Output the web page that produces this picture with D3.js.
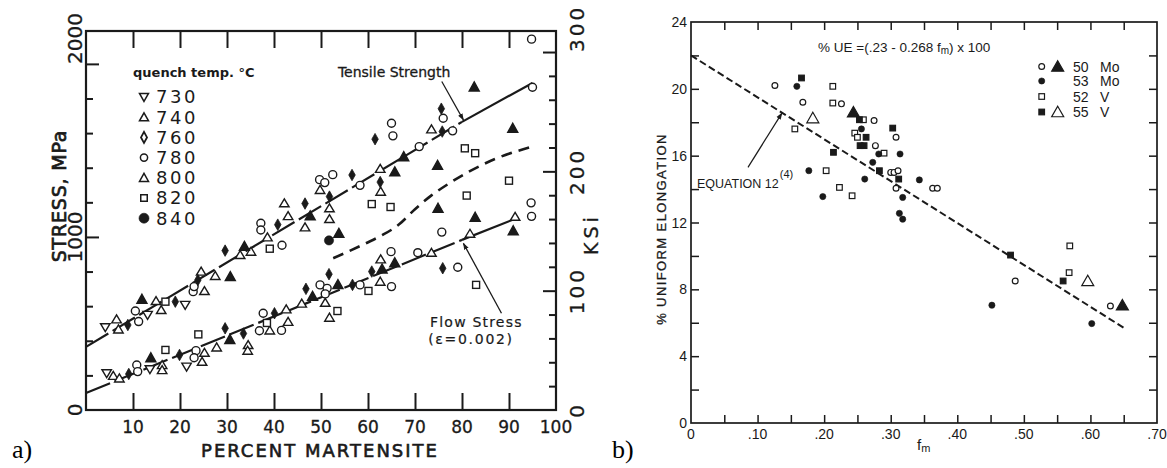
<!DOCTYPE html>
<html><head><meta charset="utf-8">
<script src="https://cdn.jsdelivr.net/npm/d3@7"></script>
<style>body{margin:0;background:#fff}svg{display:block}</style>
</head><body><svg id="c" width="1167" height="468"></svg>
<script>
// ---------------- DATA: panel a) ----------------
const pctTicks = [10,20,30,40,50,60,70,80,90];
const pctLabels = [10,20,30,40,50,60,70,80,90,100];
const mpaTicks = [200,400,600,800,1000,1200,1400,1600,1800,2000];
const mpaLabels = [0,1000,2000];
const ksiTicks = [20,40,60,80,100,120,140,160,180,200,220,240,260,280,300];
const ksiLabels = [0,100,200,300];
const legendTemps = ["730","740","760","780","800","820","840"];
const legendTempShapes = ["triDown","triUp","diamondOpen","circleOpen","triUp","squareOpen","circleFilled"];

// Tensile strength points [percent martensite, MPa]
const tsTriDown = [[4.1,478],[13.1,549],[21.1,607]];
const tsTriOpen = [[6.5,524],[6.9,466],[14.9,630],[16.0,578],[25.2,688],[24.5,800],[27.5,775],[32.8,896],[35.1,915],[38.6,998],[42.2,1195],[43.0,1121],[46.6,1056],[49.8,1272],[51.8,1166],[51.8,1104],[62.6,1394],[62.7,1262],[73.5,1622]];
const tsDiamond = [[8.9,491],[19.0,626],[23.8,751],[29.6,921],[40.8,1071],[46.6,1193],[51.8,1233],[56.6,1358],[61.5,1565],[62.6,1317],[75.6,1741],[75.8,1609]];
const tsCircleOpen = [[10.5,572],[11.2,511],[22.8,684],[23.0,713],[37.2,1079],[37.2,1040],[41.7,952],[49.7,1331],[50.8,1314],[52.5,1360],[58.3,1298],[65.0,1657],[65.3,1584],[70.9,1522],[76.0,1686],[78.0,1613],[95.0,1865],[94.8,2143]];
const tsTriFilled = [[11.9,640],[30.7,771],[33.7,946],[47.7,1122],[53.8,1021],[65.7,1376],[67.6,1464],[74.8,1414],[82.6,1867],[90.8,1628],[74.9,1166],[82.8,1114],[90.9,1036]];
const tsSquareOpen = [[16.9,626],[39.1,932],[60.8,1190],[64.8,1173],[80.6,1512],[82.8,1484],[90.0,1325],[81.0,1239]];
const tsCircleFilled = [[51.7,980]];

// Flow stress points
const fsTriDown = [[4.4,212],[13.6,235],[21.4,250]];
const fsTriOpen = [[5.8,198],[7.1,183],[16.2,260],[16.2,231],[25.2,331],[24.7,279],[27.8,362],[34.5,376],[34.4,343],[39.1,460],[42.6,582],[43.0,510],[45.9,615],[50.9,620],[51.8,534],[62.7,871],[62.6,742],[73.5,909],[81.7,1019],[91.3,1117]];
const fsDiamond = [[9.1,208],[19.9,318],[29.6,472],[33.5,442],[40.1,559],[46.8,700],[51.7,785],[56.7,723],[60.8,800],[75.9,819]];
const fsCircleOpen = [[10.8,260],[11.0,222],[23.4,343],[23.0,302],[36.9,458],[37.7,559],[41.6,460],[49.8,723],[51.3,703],[50.9,671],[58.3,723],[65.0,713],[64.9,915],[70.6,909],[79.1,825],[75.7,1028],[94.7,1197],[94.8,1119]];
const fsTriFilled = [[13.8,302],[30.6,408],[48.2,657],[53.6,725],[63.0,815],[65.7,851]];
const fsSquareOpen = [[16.9,347],[23.9,437],[38.5,503],[53.5,572],[60.1,688],[83.0,723]];

// Lines
const tensileLine = [[0,365],[80,1665]];
const tensileLineEnd = [[80,1665],[95,1890]];
const flowLine = [[0,98],[80,983]];
const flowLineEnd = [[80,983],[92,1112]];
const middleCurve = [[52.6,877],[56,918],[59.5,963],[63,1010],[66.5,1070],[70,1160],[73.5,1240],[77,1305],[81,1370],[87,1450],[95,1522]];
const tensileArrow = [[75.7,1898],[80.3,1676]];
const flowArrow = [[88.4,559],[80.3,963]];

// ---------------- DATA: panel b) ----------------
const fmTicks = [0.05,0.10,0.15,0.20,0.25,0.30,0.35,0.40,0.45,0.50,0.55,0.60,0.65];
const fmLabels = ["0",".10",".20",".30",".40",".50",".60",".70"];
const fmLabelValues = [0,0.1,0.2,0.3,0.4,0.5,0.6,0.7];
const ueTicks = [2,4,6,8,10,12,14,16,18,20,22];
const ueLabels = [0,4,8,12,16,20,24];

const mo50Circles = [[.126,20.2],[.168,19.2],[.226,19.1],[.275,18.1],[.277,16.6],[.308,17.1],[.300,15.0],[.305,15.0],[.311,15.1],[.308,14.05],[.363,14.05],[.370,14.05],[.487,8.5],[.630,7.0]];
const mo50Triangles = [[.244,18.6],[.648,7.05]];
const mo53Circles = [[.159,20.15],[.256,17.6],[.282,16.1],[.273,15.6],[.314,16.1],[.177,15.1],[.261,14.6],[.343,14.55],[.198,13.55],[.318,13.5],[.313,12.55],[.318,12.2],[.452,7.05],[.602,5.95]];
const v52Squares = [[.213,20.15],[.213,19.15],[.259,18.15],[.156,17.6],[.246,17.35],[.250,17.1],[.290,16.15],[.203,15.1],[.223,14.1],[.242,13.6],[.569,10.6],[.568,9.0]];
const v55Squares = [[.166,20.65],[.253,18.15],[.303,17.65],[.263,17.1],[.254,16.6],[.260,16.6],[.214,16.2],[.283,15.1],[.312,14.6],[.480,10.05],[.559,8.5]];
const v55Triangles = [[.183,18.25],[.596,8.5]];
const ueLine = [[0,22.0],[0.65,5.7]];
const eqArrow = [[0.0856,15.3],[0.1366,18.55]];
const legendSteels = [
  {shapes:["circleOpen","triBigFilled"], num:"50", el:"Mo"},
  {shapes:["circleFilled"], num:"53", el:"Mo"},
  {shapes:["squareOpen"], num:"52", el:"V"},
  {shapes:["squareFilled","triBigOpen"], num:"55", el:"V"}
];

// ---------------- DRAWING ----------------
const svg = d3.select("#c");
const INK = "#1a1a1a";
svg.append("defs").append("marker").attr("id","ah").attr("viewBox","0 0 10 10")
  .attr("refX",9).attr("refY",5).attr("markerWidth",7).attr("markerHeight",7)
  .attr("orient","auto-start-reverse").attr("markerUnits","userSpaceOnUse")
  .append("path").attr("d","M0,1.5L10,5L0,8.5Z").attr("fill",INK);

function mk(g, type, x, y, S){
  const sw = S.sw;
  if(type==="circleOpen"){
    g.append("circle").attr("cx",x).attr("cy",y).attr("r",S.r).attr("fill","#fff").attr("stroke",INK).attr("stroke-width",sw);
  } else if(type==="circleFilled"){
    g.append("circle").attr("cx",x).attr("cy",y).attr("r",S.rF).attr("fill",INK).attr("stroke",INK).attr("stroke-width",0.6);
  } else if(type==="squareOpen" || type==="squareFilled"){
    const s = S.sq;
    g.append("rect").attr("x",x-s/2).attr("y",y-s/2).attr("width",s).attr("height",s)
      .attr("fill",type==="squareOpen"?"#fff":INK).attr("stroke",INK).attr("stroke-width",sw);
  } else if(type==="triUp" || type==="triFilled" || type==="triBigOpen" || type==="triBigFilled"){
    const big = type.startsWith("triBig");
    const [w,h] = big ? S.triBig : (type==="triFilled" ? S.triF : S.tri);
    const filled = (type==="triFilled"||type==="triBigFilled");
    g.append("path").attr("d",`M${x},${y-h*0.55}L${x+w/2},${y+h*0.45}L${x-w/2},${y+h*0.45}Z`)
      .attr("fill",filled?INK:"#fff").attr("stroke",INK).attr("stroke-width",sw).attr("stroke-linejoin","miter");
  } else if(type==="triDown"){
    const [w,h] = S.tri;
    g.append("path").attr("d",`M${x},${y+h*0.55}L${x+w/2},${y-h*0.45}L${x-w/2},${y-h*0.45}Z`)
      .attr("fill","#fff").attr("stroke",INK).attr("stroke-width",sw);
  } else if(type==="diamondFilled" || type==="diamondOpen"){
    const [w,h] = S.dia;
    g.append("path").attr("d",`M${x},${y-h/2}L${x+w/2},${y}L${x},${y+h/2}L${x-w/2},${y}Z`)
      .attr("fill",type==="diamondFilled"?INK:"#fff").attr("stroke",INK).attr("stroke-width",type==="diamondFilled"?0.8:1.8);
  }
}

// ===== Panel a =====
const xL = d3.scaleLinear().domain([0,100]).range([86,556]);
const yL = d3.scaleLinear().domain([0,2190]).range([410,31]);
const yK = d3.scaleLinear().domain([0,2190/6.895]).range([410,31]);
const gA = svg.append("g");
const lineL = d3.line().x(d=>xL(d[0])).y(d=>yL(d[1]));

// ticks
gA.append("g").attr("transform","translate(0,410)")
  .call(d3.axisBottom(xL).tickValues(pctTicks).tickSize(-17).tickFormat(""))
  .call(g=>{g.select(".domain").remove(); g.selectAll("line").attr("stroke",INK).attr("stroke-width",2);});
gA.append("g").attr("transform","translate(0,31)")
  .call(d3.axisTop(xL).tickValues(pctTicks).tickSize(-17).tickFormat(""))
  .call(g=>{g.select(".domain").remove(); g.selectAll("line").attr("stroke",INK).attr("stroke-width",2);});
gA.append("g").attr("transform","translate(86,0)")
  .call(d3.axisLeft(yL).tickValues(mpaTicks).tickSize(-7).tickFormat(""))
  .call(g=>{g.select(".domain").remove(); g.selectAll("line").attr("stroke",INK).attr("stroke-width",2)
     .attr("x2",d=>d%1000===0?13:7);});
gA.append("g").attr("transform","translate(556,0)")
  .call(d3.axisRight(yK).tickValues(ksiTicks).tickSize(-7).tickFormat(""))
  .call(g=>{g.select(".domain").remove(); g.selectAll("line").attr("stroke",INK).attr("stroke-width",2)
     .attr("x2",d=>d%100===0?-13:-7);});
gA.append("rect").attr("x",86).attr("y",31).attr("width",470).attr("height",379)
  .attr("fill","none").attr("stroke",INK).attr("stroke-width",2.2);

// tick labels
gA.selectAll(".xl").data(pctLabels).join("text")
  .attr("x",d=>xL(d)).attr("y",433).attr("text-anchor","middle")
  .attr("font-family","DejaVu Sans").attr("font-size",17).attr("fill",INK).attr("stroke",INK).attr("stroke-width",0.3).text(d=>d);
gA.selectAll(".yl").data(mpaLabels).join("text")
  .attr("transform",d=>`translate(75,${yL(d)}) rotate(-90)`)
  .attr("text-anchor",(d,i)=>i===mpaLabels.length-1?"start":"middle").attr("dy","0.36em")
  .attr("font-family","DejaVu Sans").attr("font-size",20).attr("fill",INK).attr("stroke",INK).attr("stroke-width",0.3).text(d=>d);
gA.selectAll(".kl").data(ksiLabels).join("text")
  .attr("transform",d=>`translate(577,${yK(d)}) rotate(-90)`)
  .attr("text-anchor",(d,i)=>i===ksiLabels.length-1?"start":"middle").attr("dy","0.36em")
  .attr("letter-spacing",3)
  .attr("font-family","DejaVu Sans").attr("font-size",20).attr("fill",INK).attr("stroke",INK).attr("stroke-width",0.3).text(d=>d);

// titles
gA.append("text").attr("x",320).attr("y",457).attr("text-anchor","middle")
  .attr("font-family","DejaVu Sans").attr("font-size",18).attr("letter-spacing",2)
  .attr("fill",INK).attr("stroke",INK).attr("stroke-width",0.6).text("PERCENT MARTENSITE");
gA.append("text").attr("transform","translate(59,196) rotate(-90)").attr("text-anchor","middle").attr("dy","0.36em")
  .attr("font-family","DejaVu Sans").attr("font-size",19).attr("letter-spacing",0.8)
  .attr("fill",INK).attr("stroke",INK).attr("stroke-width",0.7).text("STRESS, MPa");
gA.append("text").attr("transform","translate(591,234) rotate(-90)").attr("text-anchor","middle").attr("dy","0.36em")
  .attr("font-family","DejaVu Sans").attr("font-size",19).attr("letter-spacing",4)
  .attr("fill",INK).attr("stroke",INK).attr("stroke-width",0.3).text("KSi");

// lines
gA.append("path").datum(tensileLine).attr("d",lineL).attr("fill","none").attr("stroke",INK).attr("stroke-width",2.2).attr("stroke-dasharray","26,5");
gA.append("path").datum(tensileLineEnd).attr("d",lineL).attr("fill","none").attr("stroke",INK).attr("stroke-width",2.2);
gA.append("path").datum(flowLine).attr("d",lineL).attr("fill","none").attr("stroke",INK).attr("stroke-width",2.2).attr("stroke-dasharray","26,5");
gA.append("path").datum(flowLineEnd).attr("d",lineL).attr("fill","none").attr("stroke",INK).attr("stroke-width",2.2);
gA.append("path").datum(middleCurve).attr("d",lineL.curve(d3.curveMonotoneX)).attr("fill","none").attr("stroke",INK).attr("stroke-width",2.6).attr("stroke-dasharray","11,7");
lineL.curve(d3.curveLinear);

// markers
const LS = {tri:[9.5,8], triF:[10,9], r:4, rF:4.6, sq:7, dia:[6.5,11.5], sw:1.4};
const leftSeries = [
  [tsTriDown,"triDown"],[fsTriDown,"triDown"],
  [tsTriOpen,"triUp"],[fsTriOpen,"triUp"],
  [tsCircleOpen,"circleOpen"],[fsCircleOpen,"circleOpen"],
  [tsSquareOpen,"squareOpen"],[fsSquareOpen,"squareOpen"],
  [tsDiamond,"diamondFilled"],[fsDiamond,"diamondFilled"],
  [tsTriFilled,"triFilled"],[fsTriFilled,"triFilled"],
  [tsCircleFilled,"circleFilled"]
];
const gMa = gA.append("g");
leftSeries.forEach(([arr,type])=>arr.forEach(d=>mk(gMa,type,xL(d[0]),yL(d[1]),LS)));

// annotations
gA.append("path").datum(tensileArrow).attr("d",lineL).attr("stroke",INK).attr("stroke-width",1.3).attr("fill","none").attr("marker-end","url(#ah)");
gA.append("path").datum(flowArrow).attr("d",lineL).attr("stroke",INK).attr("stroke-width",1.3).attr("fill","none").attr("marker-end","url(#ah)");
gA.append("text").attr("x",xL(53.6)).attr("y",yL(1925)).attr("font-family","DejaVu Sans").attr("font-size",14)
  .attr("fill",INK).attr("stroke",INK).attr("stroke-width",0.3).text("Tensile Strength");
gA.append("text").attr("x",xL(73.2)).attr("y",yL(480)).attr("font-family","DejaVu Sans").attr("font-size",14).attr("letter-spacing",1.2)
  .attr("fill",INK).attr("stroke",INK).attr("stroke-width",0.2).text("Flow Stress");
gA.append("text").attr("x",xL(72.8)).attr("y",yL(381)).attr("font-family","DejaVu Sans").attr("font-size",14).attr("letter-spacing",1.7)
  .attr("fill",INK).attr("stroke",INK).attr("stroke-width",0.2).text("(\u03B5=0.002)");

// legend a
gA.append("text").attr("x",133).attr("y",77).attr("font-family","DejaVu Sans").attr("font-weight","bold").attr("font-size",13)
  .attr("fill",INK).text("quench temp. \u00B0C");
const LLS = {tri:[9,8], triF:[10,9], r:3.6, rF:5, sq:6.5, dia:[6,11], sw:1.5};
legendTemps.forEach((t,i)=>{
  const y = 97 + i*20.2;
  mk(gA, legendTempShapes[i], 144, y, LLS);
  gA.append("text").attr("x",156).attr("y",y).attr("dy","0.36em").attr("font-family","DejaVu Sans").attr("font-size",18)
    .attr("letter-spacing",2.5).attr("fill",INK).text(t);
});

// ===== Panel b =====
const xR = d3.scaleLinear().domain([0,0.7]).range([691,1157]);
const yR = d3.scaleLinear().domain([0,24]).range([423,22]);
const gB = svg.append("g");
const lineR = d3.line().x(d=>xR(d[0])).y(d=>yR(d[1]));
const tickStyle = g=>{g.select(".domain").remove(); g.selectAll("line").attr("stroke",INK).attr("stroke-width",1.5);};
gB.append("g").attr("transform","translate(0,423)").call(d3.axisBottom(xR).tickValues(fmTicks).tickSize(-8).tickFormat("")).call(tickStyle);
gB.append("g").attr("transform","translate(0,22)").call(d3.axisTop(xR).tickValues(fmTicks).tickSize(-8).tickFormat("")).call(tickStyle);
gB.append("g").attr("transform","translate(691,0)").call(d3.axisLeft(yR).tickValues(ueTicks).tickSize(-8).tickFormat("")).call(tickStyle);
gB.append("g").attr("transform","translate(1157,0)").call(d3.axisRight(yR).tickValues(ueTicks).tickSize(-8).tickFormat("")).call(tickStyle);
gB.append("rect").attr("x",691).attr("y",22).attr("width",466).attr("height",401)
  .attr("fill","none").attr("stroke",INK).attr("stroke-width",1.7);

gB.selectAll(".fl").data(fmLabels).join("text")
  .attr("x",(d,i)=>xR(fmLabelValues[i])).attr("y",439).attr("text-anchor","middle")
  .attr("font-family","Liberation Sans").attr("font-size",14).attr("fill",INK).text(d=>d);
gB.selectAll(".ul").data(ueLabels).join("text")
  .attr("x",687).attr("y",d=>yR(d)).attr("dy","0.36em").attr("text-anchor","end")
  .attr("font-family","Liberation Sans").attr("font-size",14).attr("fill",INK).text(d=>d);

// axis titles b
const fmT = gB.append("text").attr("x",917).attr("y",450).attr("font-family","Liberation Sans").attr("font-size",15).attr("fill",INK);
fmT.append("tspan").text("f");
fmT.append("tspan").attr("font-size",11).attr("dy",2).text("m");
gB.append("text").attr("transform","translate(661,229) rotate(-90)").attr("text-anchor","middle").attr("dy","0.36em")
  .attr("font-family","Liberation Sans").attr("font-size",13).attr("letter-spacing",1.4).attr("fill",INK).attr("stroke",INK).attr("stroke-width",0.3)
  .text("% UNIFORM ELONGATION");

// equation line
gB.append("path").datum(ueLine).attr("d",lineR).attr("fill","none").attr("stroke",INK).attr("stroke-width",2).attr("stroke-dasharray","7,3.5");

// markers b
const RS = {r:2.9, rF:3.1, sq:5.6, triBig:[12,10.5], sw:1.2};
const rightSeries = [
  [mo50Circles,"circleOpen"],[v52Squares,"squareOpen"],
  [mo53Circles,"circleFilled"],[v55Squares,"squareFilled"],
  [mo50Triangles,"triBigFilled"],[v55Triangles,"triBigOpen"]
];
rightSeries.forEach(([arr,type])=>arr.forEach(d=>mk(gB,type,xR(d[0]),yR(d[1]),RS)));

// annotations b
const eq = gB.append("text").attr("x",818).attr("y",52).attr("font-family","Liberation Sans").attr("font-size",13.5).attr("fill",INK);
eq.append("tspan").text("% UE =(.23 - 0.268 f");
eq.append("tspan").attr("font-size",10).attr("dy",2).text("m");
eq.append("tspan").attr("dy",-2).text(") x 100");
gB.append("path").datum(eqArrow).attr("d",lineR).attr("stroke",INK).attr("stroke-width",1.2).attr("fill","none").attr("marker-end","url(#ah)");
const eqT = gB.append("text").attr("x",697).attr("y",188).attr("font-family","Liberation Sans").attr("font-size",12.5).attr("fill",INK);
eqT.append("tspan").text("EQUATION 12");
eqT.append("tspan").attr("font-size",11).attr("dy",-10).attr("dx",1).text("(4)");

// legend b
const legRowY = [66.5, 81, 96.5, 112];
legendSteels.forEach((L,i)=>{
  const y = legRowY[i];
  L.shapes.forEach((s,j)=>mk(gB, s, j===0?1041.7:1057.7, y, RS));
  gB.append("text").attr("x",1073).attr("y",y).attr("dy","0.36em").attr("font-family","Liberation Sans").attr("font-size",14).attr("fill",INK).text(L.num);
  gB.append("text").attr("x",1100).attr("y",y).attr("dy","0.36em").attr("font-family","Liberation Sans").attr("font-size",14).attr("fill",INK).text(L.el);
});

// panel labels
svg.append("text").attr("x",12).attr("y",458).attr("font-family","Liberation Serif").attr("font-size",26).attr("fill","#000").text("a)");
svg.append("text").attr("x",612).attr("y",458).attr("font-family","Liberation Serif").attr("font-size",26).attr("fill","#000").text("b)");
</script></body></html>
